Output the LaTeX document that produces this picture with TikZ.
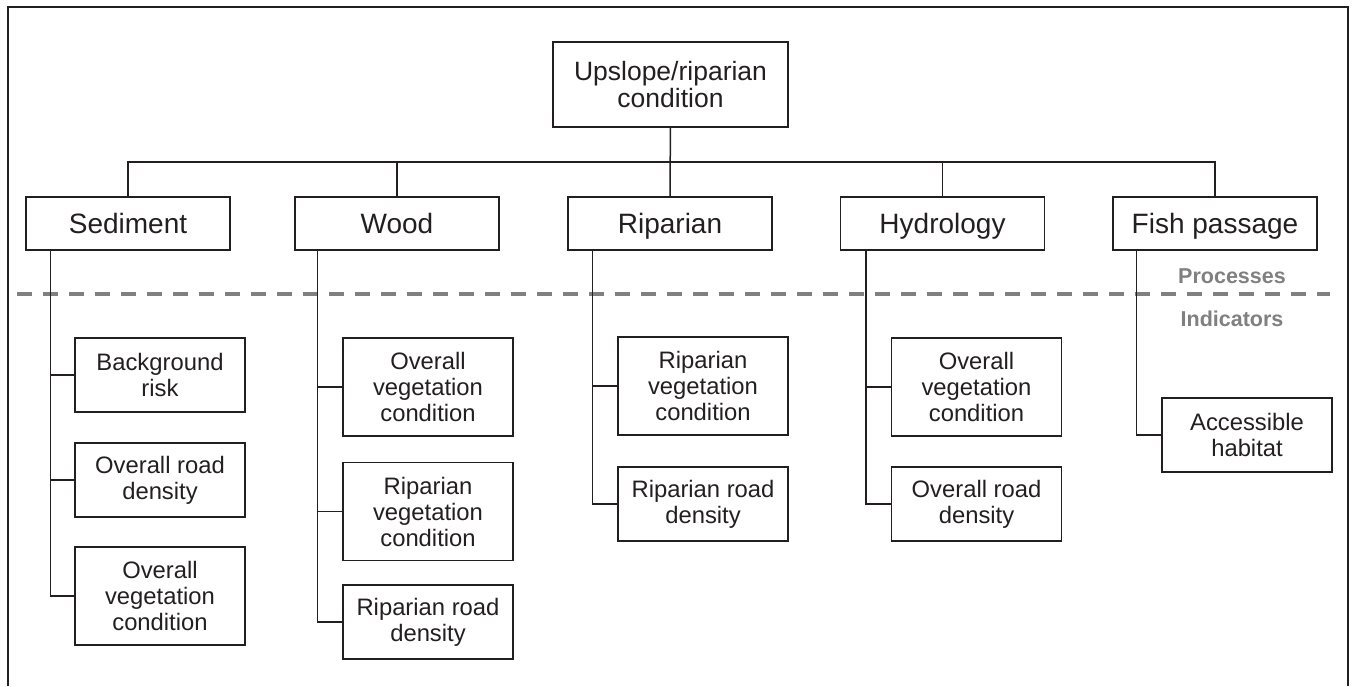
\documentclass[tikz,border=0pt]{standalone}
\usepackage{fontspec}
\setmainfont{Liberation Sans}
\usetikzlibrary{positioning}
\definecolor{ink}{HTML}{231F20}
\definecolor{divgray}{HTML}{808080}
\tikzset{
  box/.style={draw=ink,line width=1.5pt,text=ink,align=center,inner sep=0pt},
  topbox/.style={box,minimum width=235pt,minimum height=85pt,font=\fontsize{26.5}{27}\selectfont},
  procbox/.style={box,minimum width=204pt,minimum height=53pt,text height=20pt,text depth=0pt,font=\fontsize{28}{30}\selectfont},
  indbox/.style={box,minimum width=170pt,font=\fontsize{23.8}{26}\selectfont},
  ind2/.style={indbox,minimum height=74pt},
  ind3/.style={indbox,minimum height=98pt},
  link/.style={draw=ink,line width=1.5pt},
  layer/.style={text=divgray,font=\fontsize{21.5}{22}\selectfont\bfseries}
}
\begin{document}
\begin{tikzpicture}[x=1pt,y=-1pt]
\useasboundingbox (0,0) rectangle (1357,686);

%frame
\draw[ink,line width=1.5pt] (8,686) -- (8,7) -- (1348,7) -- (1348,686);

%top
\node[topbox] (top) at (670.5,84.5) {Upslope/riparian\\condition};

%processes
\node[procbox] (sed)  at (128,223.5)   {Sediment};
\node[procbox] (wood) at (397,223.5)   {Wood};
\node[procbox] (rip)  at (670,223.5)   {Riparian};
\node[procbox] (hyd)  at (942.5,223.5) {Hydrology};
\node[procbox] (fish) at (1215,223.5)  {Fish passage};

\coordinate (bus) at (670,162);
\draw[link] (top) -- (rip);
\draw[link] (sed.north) |- (bus) -| (fish.north);
\draw[link] (wood.north) -- (wood.north |- bus);
\draw[link] (hyd.north) -- (hyd.north |- bus);

%divider
\draw[divgray,line width=4pt,dash pattern=on 15pt off 11pt] (17,294) -- (1330,294);
\node[layer] (proc) at (1232,276) {Processes};
\node[layer] (indi) at (1232,319) {Indicators};

%sediment
\node[ind2] (sedbr)  at (160,375) {Background\\risk};
\node[ind2] (sedord) at (160,480) {Overall road\\density};
\node[ind3] (sedovc) at (160,596) {Overall\\vegetation\\condition};
\draw[link] (sed.south west) ++(25,0) coordinate (sedt) |- (sedovc.west);
\draw[link] (sedt |- sedbr.west) -- (sedbr.west);
\draw[link] (sedt |- sedord.west) -- (sedord.west);

%wood
\node[ind3] (woodovc) at (428,387)   {Overall\\vegetation\\condition};
\node[ind3] (woodrvc) at (428,511.5) {Riparian\\vegetation\\condition};
\node[ind2] (woodrrd) at (428,622)   {Riparian road\\density};
\draw[link] (wood.south west) ++(23,0) coordinate (woodt) |- (woodrrd.west);
\draw[link] (woodt |- woodovc.west) -- (woodovc.west);
\draw[link] (woodt |- woodrvc.west) -- (woodrvc.west);

%riparian
\node[ind3] (riprvc) at (703,386) {Riparian\\vegetation\\condition};
\node[ind2] (riprrd) at (703,504) {Riparian road\\density};
\draw[link] (rip.south west) ++(25,0) coordinate (ript) |- (riprrd.west);
\draw[link] (ript |- riprvc.west) -- (riprvc.west);

%hydrology
\node[ind3] (hydovc) at (976.5,387) {Overall\\vegetation\\condition};
\node[ind2] (hydord) at (976.5,504) {Overall road\\density};
\draw[link] (hyd.south west) ++(26,0) coordinate (hydt) |- (hydord.west);
\draw[link] (hydt |- hydovc.west) -- (hydovc.west);

%fish passage
\node[ind2] (fishah) at (1247,435) {Accessible\\habitat};
\draw[link] (fish.south west) ++(24,0) |- (fishah.west);
\end{tikzpicture}
\end{document}
